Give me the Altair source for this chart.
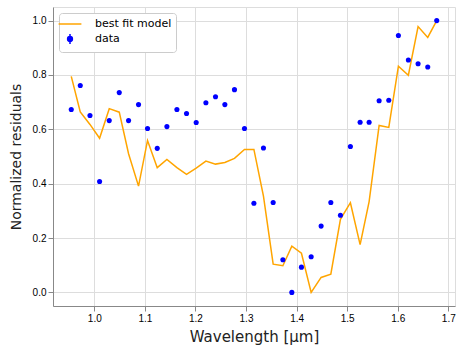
import altair as alt
import pandas as pd

wavelength = [0.9545, 0.9723, 0.9915, 1.0105, 1.0296, 1.0494, 1.0678, 1.0875, 1.1053, 1.1245,
              1.1436, 1.1634, 1.1824, 1.2015, 1.2207, 1.2397, 1.2582, 1.2772, 1.2970, 1.3156,
              1.3345, 1.3537, 1.3729, 1.3906, 1.4096, 1.4288, 1.4485, 1.4677, 1.4867, 1.5064,
              1.5256, 1.5434, 1.5632, 1.5823, 1.6013, 1.6210, 1.6402, 1.6593, 1.6771]
data_values = [0.673, 0.761, 0.651, 0.408, 0.632, 0.735, 0.632, 0.691, 0.603, 0.530,
               0.610, 0.673, 0.658, 0.625, 0.698, 0.720, 0.691, 0.746, 0.603, 0.328,
               0.531, 0.331, 0.120, 0.000, 0.093, 0.131, 0.244, 0.331, 0.284, 0.537,
               0.626, 0.626, 0.705, 0.707, 0.945, 0.855, 0.841, 0.829, 1.000]
model_values = [0.795, 0.664, 0.618, 0.567, 0.676, 0.663, 0.510, 0.391, 0.559, 0.459,
                0.489, 0.459, 0.434, 0.457, 0.483, 0.472, 0.478, 0.493, 0.526, 0.526,
                0.354, 0.104, 0.098, 0.170, 0.144, 0.000, 0.055, 0.067, 0.269, 0.330,
                0.176, 0.334, 0.614, 0.607, 0.832, 0.799, 0.978, 0.938, 1.000]
series_names = ["best fit model", "data"]
series_colors = ["#FFA500", "#0000FF"]
x_ticks = [1.0, 1.1, 1.2, 1.3, 1.4, 1.5, 1.6, 1.7]
y_ticks = [0.0, 0.2, 0.4, 0.6, 0.8, 1.0]

df = pd.DataFrame({
    "wavelength": wavelength,
    "data": data_values,
    "model": model_values,
    "series": ["data"] * len(wavelength),
})

FONT = "DejaVu Sans"
TITLE_COLOR = "#222222"

x_enc = alt.X("wavelength:Q",
              scale=alt.Scale(domain=[0.9184, 1.7132], nice=False, zero=False),
              axis=alt.Axis(values=x_ticks, format=".1f", title="Wavelength [μm]",
                            titleFontSize=15, titlePadding=6, titleFontWeight="normal",
                            titleFont=FONT, titleColor=TITLE_COLOR))
y_axis = alt.Axis(values=y_ticks, format=".1f", title="Normalized residuals",
                  titleFontSize=14, titlePadding=9, titleFontWeight="normal",
                  titleFont=FONT, titleColor=TITLE_COLOR)
y_scale = alt.Scale(domain=[-0.05, 1.05], nice=False, zero=False)

line_shape = "M-1.9,0L1.9,0"
dot_shape = "M-0.4,0A0.4,0.4,0,1,1,0.4,0A0.4,0.4,0,1,1,-0.4,0Z M0,-0.85L0,0.85"

legend = alt.Legend(title=None, orient="none", legendX=6, legendY=6,
                    fillColor="white", strokeColor="#cccccc", cornerRadius=3,
                    padding=4, labelFont=FONT, labelFontSize=11, labelColor="black",
                    symbolSize=144, symbolStrokeWidth=1.5, labelOffset=18, rowPadding=1)

line = alt.Chart(df).mark_line(color="#FFA500", strokeWidth=1.5).encode(
    x=x_enc,
    y=alt.Y("model:Q", scale=y_scale, axis=y_axis),
)

points = alt.Chart(df).mark_circle(color="#0000FF", opacity=1, size=26).encode(
    x=x_enc,
    y=alt.Y("data:Q", scale=y_scale, axis=y_axis),
)

legend_layer = alt.Chart(df).mark_point(filled=True, size=0, opacity=1).encode(
    x=x_enc,
    y=alt.Y("data:Q", scale=y_scale, axis=y_axis),
    color=alt.Color("series:N", scale=alt.Scale(domain=series_names, range=series_colors), legend=legend),
    stroke=alt.Stroke("series:N", scale=alt.Scale(domain=series_names, range=series_colors), legend=legend),
    shape=alt.Shape("series:N", scale=alt.Scale(domain=series_names, range=[line_shape, dot_shape]), legend=legend),
)

chart = alt.layer(line, points, legend_layer).properties(
    width=402, height=299,
    padding={"left": 53, "top": 7, "right": 2, "bottom": 47},
    autosize=alt.AutoSizeParams(type="none"),
).configure_view(
    stroke="black", strokeWidth=2
).configure_axis(
    grid=False, domain=False,
    tickColor="black", tickSize=3.5, tickWidth=1,
    labelFont=FONT, labelFontSize=10.5, labelColor="black", labelPadding=3,
    titleFont=FONT, titleColor=TITLE_COLOR, titleFontWeight="normal",
).configure(background="white")

chart.save("out.html", embed_options={"renderer": "svg", "actions": False})
